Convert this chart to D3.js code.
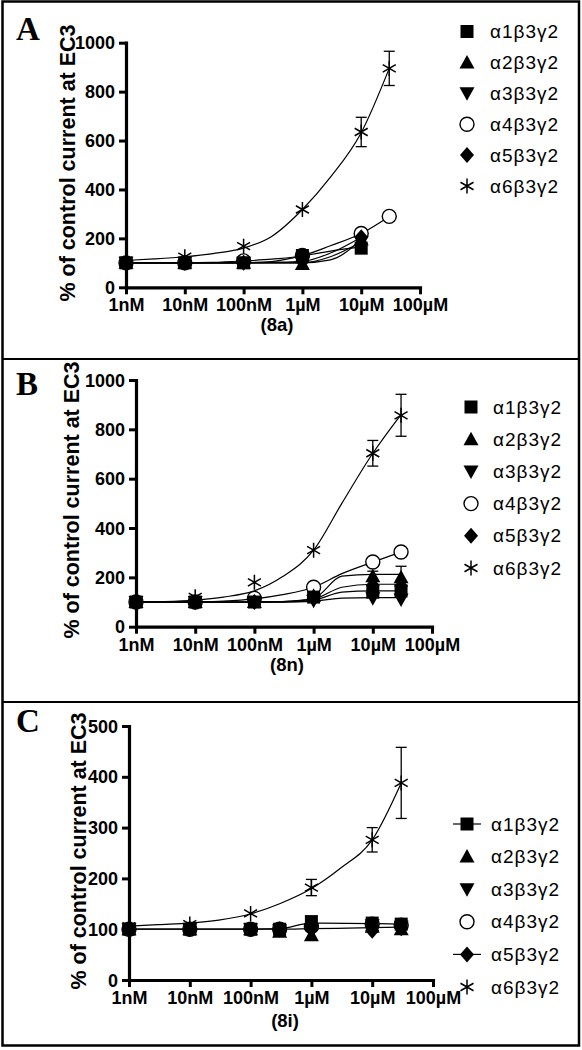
<!DOCTYPE html>
<html><head><meta charset="utf-8">
<script src="https://cdn.jsdelivr.net/npm/d3@7"></script>
<style>body{margin:0;background:#fff} svg{display:block}</style>
</head><body>
<svg id="chart" width="582" height="1050"></svg>
<script>
// ---------------- DATA ----------------
const seriesNames = ["α1β3γ2","α2β3γ2","α3β3γ2","α4β3γ2","α5β3γ2","α6β3γ2"];
const xTickValues = [1,10,100,1000,10000,100000];          // nM
const xTickLabels = ["1nM","10nM","100nM","1µM","10µM","100µM"];
const yTicksAB = [0,200,400,600,800,1000];
const yTicksC  = [0,100,200,300,400,500];
const fitConc  = [1,3,10,30,100,300,1000,3000,10000,30000]; // nM

// Panel A (8a)
const concA = [1,10,100,1000,10000,30000];
const A_a1 = [100,100,100,130,160,null];
const A_a2 = [100,100,100,95,195,null];
const A_a3 = [100,100,100,100,185,null];
const A_a4 = [100,100,108,130,220,290];
const A_a5 = [100,100,100,105,205,null];
const A_a6 = [108,125,168,318,635,895];
const A_a6err = [0,0,0,0,60,70];
const A_fit1 = [100,100,100,100,101,105,128,148,165,null];
const A_fit2 = [100,100,100,100,100,100,100,112,195,null];
const A_fit3 = [100,100,100,100,100,100,100,125,185,null];
const A_fit4 = [100,100,100,102,108,115,130,170,220,290];
const A_fit5 = [100,100,100,100,100,102,106,140,205,null];
const A_fit6 = [110,116,125,138,160,208,318,450,632,895];

// Panel B (8n)
const concB = [1,10,100,1000,10000,30000];
const B_a1 = [100,100,100,120,140,145];
const B_a2 = [100,100,100,125,205,200];
const B_a2err = [0,0,0,0,20,45];
const B_a3 = [100,100,100,105,115,110];
const B_a4 = [100,100,115,160,262,303];
const B_a5 = [100,100,100,115,168,165];
const B_a6 = [100,121,180,310,703,857];
const B_a6err = [0,0,0,0,52,85];
const B_fit1 = [100,100,100,100,100,101,108,140,145,145];
const B_fit2 = [100,100,100,100,100,102,115,205,212,212];
const B_fit3 = [100,100,100,100,100,100,103,116,118,118];
const B_fit4 = [100,100,101,104,113,130,160,215,262,303];
const B_fit5 = [100,100,100,100,100,102,112,160,172,172];
const B_fit6 = [100,102,108,120,145,203,310,500,703,860];

// Panel C (8i)
const concC = [1,10,100,300,1000,10000,30000];
const C_a1 = [100,100,100,100,115,112,110];
const C_a1err = [0,0,0,0,0,0,10];
const C_a2 = [100,100,100,95,88,105,100];
const C_a3 = [100,100,100,98,100,108,105];
const C_a4 = [100,100,100,100,105,110,108];
const C_a5 = [100,100,100,100,100,97,102];
const C_a6 = [106,110,131,null,182,276,388];
const C_a6err = [0,0,0,0,16,24,70];
const C_fit1 = [100,100,100,101,112,111,110];
const C_fit5 = [100,100,100,100,101,103,104];
const C_fit6 = [106,109,112,118,130,150,180,220,276,388];

// ---------------- LAYOUT ----------------
const panels = [
  { letter:"A", sub:"(8a)", x0:126, x1:420, yBot:287.3, yTop:42.7, ymax:1000, yTicks:yTicksAB,
    letterY:40, labelX:68, labelY:163, subY:331, subX:277,
    legX:467, legTextX:490, legY:31.5, legStep:30.9, legLines:[],
    conc:concA, vals:[A_a1,A_a2,A_a3,A_a4,A_a5,A_a6], errs:[null,null,null,null,null,A_a6err],
    fitX:[fitConc,fitConc,fitConc,fitConc,fitConc,fitConc],
    fits:[A_fit1,A_fit2,A_fit3,A_fit4,A_fit5,A_fit6] },
  { letter:"B", sub:"(8n)", x0:136, x1:432, yBot:626.7, yTop:380, ymax:1000, yTicks:yTicksAB,
    letterY:395, labelX:72, labelY:500, subY:671, subX:287,
    legX:471, legTextX:493, legY:407, legStep:32.2, legLines:[],
    conc:concB, vals:[B_a1,B_a2,B_a3,B_a4,B_a5,B_a6], errs:[null,B_a2err,null,null,null,B_a6err],
    fitX:[fitConc,fitConc,fitConc,fitConc,fitConc,fitConc],
    fits:[B_fit1,B_fit2,B_fit3,B_fit4,B_fit5,B_fit6] },
  { letter:"C", sub:"(8i)", x0:129, x1:433, yBot:980, yTop:726, ymax:500, yTicks:yTicksC,
    letterY:732, labelX:79, labelY:851, subY:1027, subX:285,
    legX:467, legTextX:491, legY:824, legStep:32.6, legLines:[0,4],
    conc:concC, vals:[C_a1,C_a2,C_a3,C_a4,C_a5,C_a6], errs:[C_a1err,null,null,null,null,C_a6err],
    fitX:[concC,null,null,null,concC,fitConc],
    fits:[C_fit1,null,null,null,C_fit5,C_fit6] }
];

// ---------------- MARKERS ----------------
const markerPaths = [
  "M-6.5,-6.5H6.5V6.5H-6.5Z",
  "M0,-7.5L7.5,6L-7.5,6Z",
  "M0,7.5L7.5,-6L-7.5,-6Z",
  null,
  "M0,-8L7,0L0,8L-7,0Z",
  "M0,-7.5V7.5M-6.5,-3.75L6.5,3.75M-6.5,3.75L6.5,-3.75"
];
function drawMarker(g, i, x, y) {
  if (i === 3) {
    g.append("circle").attr("cx",x).attr("cy",y).attr("r",7)
      .attr("fill","#fff").attr("stroke","#000").attr("stroke-width",1.4);
  } else if (i === 5) {
    g.append("path").attr("d",markerPaths[i]).attr("transform",`translate(${x},${y})`)
      .attr("fill","none").attr("stroke","#000").attr("stroke-width",1.5);
  } else {
    g.append("path").attr("d",markerPaths[i]).attr("transform",`translate(${x},${y})`)
      .attr("fill","#000");
  }
}

const svg = d3.select("#chart");
const FONT = "'Liberation Sans', Arial, Helvetica, sans-serif";

// frame
svg.append("rect").attr("x",2.5).attr("y",1.5).attr("width",576.5).attr("height",1044)
  .attr("fill","none").attr("stroke","#000").attr("stroke-width",2.5);
[359,702].forEach(yy => svg.append("line").attr("x1",2.5).attr("x2",579).attr("y1",yy).attr("y2",yy)
  .attr("stroke","#000").attr("stroke-width",2));

const drawOrder = [5,3,4,2,0,1];

panels.forEach(p => {
  const g = svg.append("g");
  const x = d3.scaleLog().domain([1,100000]).range([p.x0,p.x1]);
  const y = d3.scaleLinear().domain([0,p.ymax]).range([p.yBot,p.yTop]);

  // fit lines
  const line = d3.line().defined(d => d[1] != null).x(d => x(d[0])).y(d => y(d[1])).curve(d3.curveMonotoneX);
  p.fits.forEach((f,i) => {
    if (!f) return;
    const pts = p.fitX[i].map((c,k) => [c,f[k]]);
    g.append("path").attr("d",line(pts)).attr("fill","none").attr("stroke","#000").attr("stroke-width",1.2);
  });

  // error bars
  p.errs.forEach((e,i) => {
    if (!e) return;
    p.conc.forEach((c,k) => {
      const v = p.vals[i][k];
      if (v == null || !e[k]) return;
      const cx = x(c), ya = y(v+e[k]), yb = y(v-e[k]);
      g.append("line").attr("x1",cx).attr("x2",cx).attr("y1",ya).attr("y2",yb).attr("stroke","#000").attr("stroke-width",1.3);
      [ya,yb].forEach(yy => g.append("line").attr("x1",cx-5.5).attr("x2",cx+5.5).attr("y1",yy).attr("y2",yy).attr("stroke","#000").attr("stroke-width",1.3));
    });
  });

  // markers
  drawOrder.forEach(i => {
    p.conc.forEach((c,k) => {
      const v = p.vals[i][k];
      if (v == null) return;
      drawMarker(g, i, x(c), y(v));
    });
  });

  // axes
  const xa = g.append("g").attr("transform",`translate(0,${p.yBot})`)
    .call(d3.axisBottom(x).tickValues(xTickValues).tickFormat((d,i)=>xTickLabels[i]).tickSize(7).tickSizeOuter(0));
  const ya = g.append("g").attr("transform",`translate(${p.x0},0)`)
    .call(d3.axisLeft(y).tickValues(p.yTicks).tickFormat(d3.format("d")).tickSize(7).tickSizeOuter(0));
  [xa,ya].forEach(a => {
    a.select(".domain").attr("stroke","#000").attr("stroke-width",3.2).attr("stroke-linecap","square");
    a.selectAll(".tick line").attr("stroke","#000").attr("stroke-width",3);
    a.selectAll(".tick text").attr("fill","#000").attr("font-family",FONT).attr("font-weight","bold").attr("font-size",18);
  });
  xa.selectAll(".tick text").attr("y",24).attr("dy",null);
  ya.selectAll(".tick text").attr("x",-11).attr("dy","0.34em");

  // y label
  g.append("text").attr("transform",`translate(${p.labelX},${p.labelY}) rotate(-90)`)
    .attr("text-anchor","middle").attr("dominant-baseline","central")
    .attr("font-family",FONT).attr("font-weight","bold").attr("font-size",21.5).text("% of control current at EC3");
  // sub label
  g.append("text").attr("x",p.subX).attr("y",p.subY).attr("text-anchor","middle")
    .attr("font-family",FONT).attr("font-weight","bold").attr("font-size",18.5).text(p.sub);
  // panel letter
  g.append("text").attr("x",16).attr("y",p.letterY)
    .attr("font-family","'Liberation Serif','Times New Roman',serif").attr("font-weight","bold").attr("font-size",33).text(p.letter);

  // legend
  seriesNames.forEach((name,i) => {
    const ly = p.legY + i*p.legStep;
    if (p.legLines.includes(i)) {
      g.append("line").attr("x1",p.legX-14).attr("x2",p.legX+14).attr("y1",ly).attr("y2",ly).attr("stroke","#000").attr("stroke-width",1.2);
    }
    drawMarker(g, i, p.legX, ly);
    g.append("text").attr("x",p.legTextX).attr("y",ly).attr("dominant-baseline","central")
      .attr("font-family",FONT).attr("font-size",19).attr("letter-spacing",1).text(name);
  });
});
</script>
</body></html>
